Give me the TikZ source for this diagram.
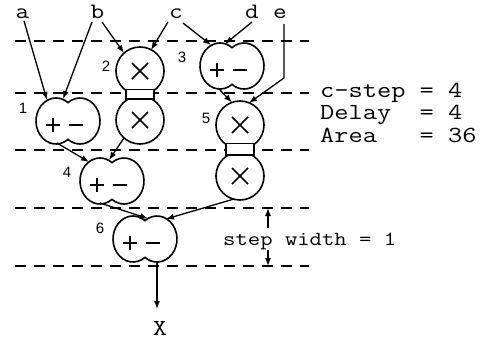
\documentclass[tikz,border=0pt]{standalone}
\usepackage{fontspec}
\setmainfont{Liberation Serif}
\newfontfamily\courf{Latin Modern Mono}[FakeStretch=1.2]
\newfontfamily\sansf{Liberation Sans}
\usetikzlibrary{arrows.meta,calc}

\tikzset{
 opline/.style={line width=1.6pt},
 sym/.style={line width=1.6pt},
 arr/.style={line width=1.3pt,-{Latex[length=8pt,width=6pt]}},
 stepline/.style={line width=2.8pt,dash pattern=on 11pt off 8pt},
 inlabel/.style={font=\courf\fontsize{22}{22}\selectfont, anchor=base, inner sep=0pt},
 numlabel/.style={font=\sansf\fontsize{15}{15}\selectfont, inner sep=0pt},
 info/.style={font=\courf\fontsize{23}{23}\selectfont, anchor=base west, inner sep=0pt},
 swtext/.style={font=\courf\fontsize{20}{20}\selectfont, anchor=base west, inner sep=0pt},
}

\newcommand\addsubop[3]{%
  \coordinate (#1) at (#2,#3);
  \draw[opline,fill=white] ($(#1)+(0,18.4)$) arc[start angle=53.13,end angle=306.87,x radius=20,y radius=23] arc[start angle=-126.87,end angle=126.87,x radius=20,y radius=23] -- cycle;
  \draw[sym] ($(#1)+(-22,4)$) -- ($(#1)+(-8,4)$) ($(#1)+(-15,-3)$) -- ($(#1)+(-15,11)$) ($(#1)+(1,4)$) -- ($(#1)+(15,4)$);
}
\newcommand\mulop[4]{%
  \coordinate (#1a) at (#2,#3);
  \coordinate (#1b) at (#2,#4);
  \draw[opline] (#1a) circle[radius=24];
  \draw[opline] (#1b) circle[radius=24];
  \draw[opline,fill=white] ($(#1a)+(-14,18.5)$) rectangle ($(#1b)+(14,-21)$);
  \draw[sym] ($(#1a)+(-8,-8)$) -- ($(#1a)+(8,8)$) ($(#1a)+(-8,8)$) -- ($(#1a)+(8,-8)$);
  \draw[sym] ($(#1b)+(-8,-8)$) -- ($(#1b)+(8,8)$) ($(#1b)+(-8,8)$) -- ($(#1b)+(8,-8)$);
}

\begin{document}
\begin{tikzpicture}[x=1pt,y=-1pt]
\useasboundingbox (0,0) rectangle (487,343);
\fill[white] (0,0) rectangle (487,343);

% control-step boundaries
\foreach \yy in {41,93,150,208,266}
  \draw[stepline] (15,\yy) -- (309,\yy);

% operations
\mulop{n2}{140}{71}{120}
\addsubop{n3}{232}{66}
\addsubop{n1}{68}{121}
\mulop{n5}{240}{125}{176}
\addsubop{n4}{112}{181}
\addsubop{n6}{145}{239}

% input labels
\node[inlabel] (la) at (22.5,18) {a};
\node[inlabel] (lb) at (97.5,18) {b};
\node[inlabel] (lc) at (176,18) {c};
\node[inlabel] (ld) at (252,18) {d};
\node[inlabel] (le) at (280,18) {e};
\node[font=\courf\fontsize{23}{23}\selectfont, inner sep=0pt] (lx) at (160,328) {X};

% step numbers
\node[numlabel] (k1) at (23,108) {1};
\node[numlabel] (k2) at (106,66) {2};
\node[numlabel] (k3) at (182,57) {3};
\node[numlabel] (k4) at (67,172) {4};
\node[numlabel] (k5) at (206,118) {5};
\node[numlabel] (k6) at (100,228) {6};

% connectors
\draw[arr] ($(la.base)+(1.5,3)$) -- ($(n1)+(-21,-21)$);
\draw[arr] ($(lb.base)+(-5.5,4)$) -- ($(n1)+(-5,-22)$);
\draw[arr] ($(lb.base)+(4.5,4)$) -- ($(n2a)+(-16,-18)$);
\draw[arr] ($(lc.base)+(-8,4)$) -- ($(n2a)+(11,-21)$);
\draw[arr] ($(lc.base)+(7,5)$) -- ($(n3)+(-21,-21)$);
\draw[arr] ($(ld.base)+(0,4)$) -- ($(n3)+(-7,-22)$);
\coordinate (ebend) at ($(le.base)+(4,60)$);
\draw[arr] ($(le.base)+(4,6)$) -- (ebend) -- ($(n5a)+(9,-22)$);
\draw[arr] ($(n3)+(-14,22)$) -- ($(n5a)+(-8,-22.5)$);
\draw[arr] ($(n2b)+(-16,18)$) -- ($(n4)+(-3,-21)$);
\draw[arr] ($(n1)+(-11,22)$) -- ($(n4)+(-23,-19)$);
\draw[arr] ($(n4)+(-12,22)$) -- ($(n6)+(3,-20.5)$);
\draw[arr] ($(n5b)+(-6,23)$) -- ($(n6)+(21,-20)$);
\draw[arr] ($(n6)+(12,23)$) -- ($(lx)+(-3,-19)$);

% info text
\node[info] (t1) at (320,97) {c-step = 4};
\node[info] (t2) at (320,119.5) {Delay\ \ = 4};
\node[info] (t3) at (320,142) {Area\ \ \ = 36};

% step width
\node[swtext] (sw) at (223,245) {step width = 1};
\coordinate (swtop) at (268,208);
\coordinate (swbot) at (268,266);
\coordinate (swup) at (268,228);
\coordinate (swdn) at (268,250);
\draw[arr] (swup) -- (swtop);
\draw[arr] (swdn) -- (swbot);
\end{tikzpicture}
\end{document}
